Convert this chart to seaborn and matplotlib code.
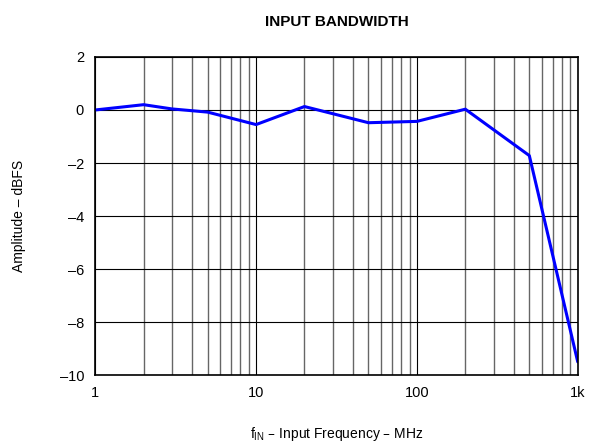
import numpy as np
import pandas as pd
import matplotlib
matplotlib.use("Agg")
import matplotlib.pyplot as plt
import seaborn as sns
from matplotlib.ticker import FixedLocator, LogLocator, NullFormatter

# Data
freq_mhz = [1, 2, 3, 5, 10, 20, 50, 100, 200, 500, 1000]
amplitude_dbfs = [0.0, 0.2, 0.04, -0.08, -0.55, 0.13, -0.48, -0.43, 0.03, -1.72, -9.5]
x_ticks = [1, 10, 100, 1000]
x_tick_labels = ["1", "10", "100", "1k"]
y_ticks = [-10, -8, -6, -4, -2, 0, 2]

df = pd.DataFrame({"freq": freq_mhz, "amp": amplitude_dbfs})

sns.set_style("white")
plt.rcParams["font.family"] = ["Liberation Sans", "DejaVu Sans"]
plt.rcParams["text.color"] = "black"
plt.rcParams["axes.labelcolor"] = "black"
plt.rcParams["xtick.color"] = "black"
plt.rcParams["ytick.color"] = "black"

fig = plt.figure(figsize=(5.95, 4.45), dpi=100)
ax = fig.add_axes([0.160, 0.157, 0.811, 0.715])

sns.lineplot(data=df, x="freq", y="amp", color="#0000ff", linewidth=2.2, ax=ax)

ax.set_xscale("log")
ax.set_xlim(1, 1000)
ax.set_ylim(-10, 2)

ax.xaxis.set_major_locator(FixedLocator(x_ticks))
ax.set_xticklabels(x_tick_labels)
ax.xaxis.set_minor_locator(LogLocator(base=10, subs=np.arange(2, 10)))
ax.xaxis.set_minor_formatter(NullFormatter())
ax.set_yticks(y_ticks)
ax.set_yticklabels([str(v).replace("-", "\u2013") for v in y_ticks])

ax.grid(which="major", axis="both", color="black", linewidth=0.8)
ax.grid(which="minor", axis="x", color="#666666", linewidth=1.0)
ax.tick_params(axis="both", which="both", length=0, labelsize=10.5, pad=8)

for s in ax.spines.values():
    s.set_color("black")
    s.set_linewidth(1.2)

ax.set_title("INPUT BANDWIDTH", fontsize=11, fontweight="bold", pad=22)
ax.set_xlabel("f$_{\\mathregular{IN}}$ \u2013 Input Frequency \u2013 MHz", fontsize=10, labelpad=18)
ax.set_ylabel("Amplitude \u2013 dBFS", fontsize=10, labelpad=24)

fig.savefig("out.png", dpi=100)
